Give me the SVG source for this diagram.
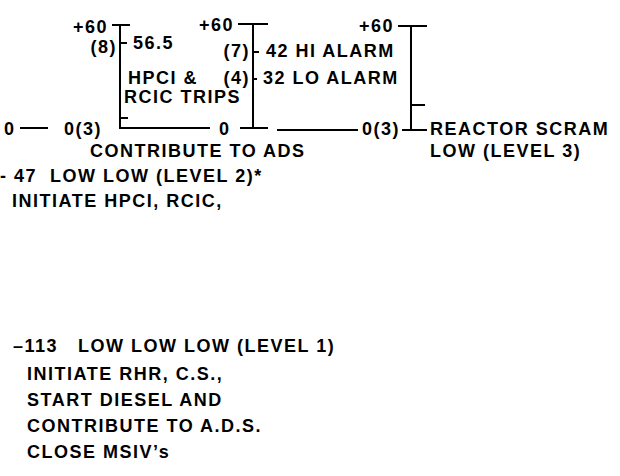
<svg xmlns="http://www.w3.org/2000/svg" width="620" height="476" viewBox="0 0 620 476">
<style>
text{font-family:"Liberation Sans",Arial,sans-serif;font-weight:bold;font-size:18px;letter-spacing:1.5px;fill:#000}
.ln{stroke:#000;stroke-width:2;fill:none}
.e{text-anchor:end}
</style>
<rect width="620" height="476" fill="#fff"/>
<g id="connectors">
<path class="ln" d="M20 128H48"/>
</g>
<g id="bracket-hpci">
<path class="ln" d="M112 25H130M120 25V128H210M120 43H127M120 118H128"/>
<text x="108" y="33" class="e">+60</text>
<text x="117" y="53" class="e">(8)</text>
<text x="133" y="49">56.5</text>
<text x="128" y="84">HPCI &amp;</text>
<text x="124" y="103">RCIC TRIPS</text>
<text x="4" y="135">0</text>
<text x="64" y="135">0(3)</text>
<text x="90" y="157">CONTRIBUTE TO ADS</text>
</g>
<g id="bracket-alarm">
<path class="ln" d="M238 24H268M253 24V128M240 128H268M253 52H259M253 79H257"/>
<text x="234" y="31" class="e">+60</text>
<text x="250" y="57" class="e">(7)</text>
<text x="266" y="57">42 HI ALARM</text>
<text x="250" y="84" class="e">(4)</text>
<text x="263" y="84">32 LO ALARM</text>
<text x="219" y="135">0</text>
</g>
<g id="bracket-scram">
<path class="ln" d="M277 130H358M398 26H427M411 26V130M411 105H425M402 130H427"/>
<text x="394" y="32" class="e">+60</text>
<text x="362" y="135">0(3)</text>
<text x="430" y="135">REACTOR SCRAM</text>
<text x="430" y="157">LOW (LEVEL 3)</text>
</g>
<g id="level2">
<text x="0" y="182">- 47</text>
<text x="50" y="182">LOW LOW (LEVEL 2)*</text>
<text x="12" y="207">INITIATE HPCI, RCIC,</text>
</g>
<g id="level1">
<text x="13" y="352">–113</text>
<text x="78" y="352">LOW LOW LOW (LEVEL 1)</text>
<text x="27" y="380">INITIATE RHR, C.S.,</text>
<text x="27" y="406">START DIESEL AND</text>
<text x="27" y="432">CONTRIBUTE TO A.D.S.</text>
<text x="27" y="458">CLOSE MSIV’s</text>
</g>
</svg>
